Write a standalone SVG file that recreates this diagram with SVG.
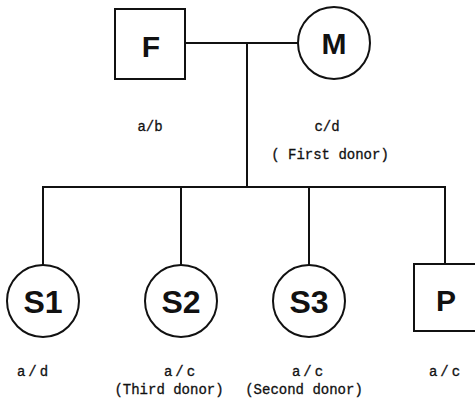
<svg xmlns="http://www.w3.org/2000/svg" width="475" height="411" viewBox="0 0 475 411">
  <style>
    .shape { fill: #ffffff; stroke: #111111; stroke-width: 2; }
    .line { stroke: #111111; stroke-width: 2; fill: none; }
    .name { font-family: "Liberation Sans", Arial, sans-serif; font-weight: bold; fill: #111111; text-anchor: middle; }
    .geno { font-family: "Liberation Mono", "Courier New", monospace; font-size: 14px; fill: #111111; stroke: #111111; stroke-width: 0.3; text-anchor: middle; }
    .spaced { letter-spacing: 3px; }
  </style>
  <rect width="475" height="411" fill="#ffffff"/>

  <!-- pedigree lines -->
  <g id="connectors">
    <line class="line" x1="185" y1="43" x2="298" y2="43"/>
    <line class="line" x1="247" y1="43" x2="247" y2="187"/>
    <line class="line" x1="42" y1="187" x2="446" y2="187"/>
    <line class="line" x1="43" y1="187" x2="43" y2="265"/>
    <line class="line" x1="181" y1="187" x2="181" y2="265"/>
    <line class="line" x1="309" y1="187" x2="309" y2="265"/>
    <line class="line" x1="445" y1="187" x2="445" y2="264"/>
  </g>

  <!-- parents -->
  <g id="F">
    <rect class="shape" x="115" y="9" width="70" height="70"/>
    <text class="name" x="151" y="57" font-size="30">F</text>
  </g>
  <g id="M">
    <circle class="shape" cx="334" cy="43" r="36"/>
    <text class="name" x="334" y="54" font-size="30">M</text>
  </g>

  <!-- children -->
  <g id="S1">
    <circle class="shape" cx="43" cy="301" r="36"/>
    <text class="name" x="43" y="313" font-size="32">S1</text>
  </g>
  <g id="S2">
    <circle class="shape" cx="181" cy="301" r="36"/>
    <text class="name" x="181" y="313" font-size="32">S2</text>
  </g>
  <g id="S3">
    <circle class="shape" cx="309" cy="301" r="36"/>
    <text class="name" x="309" y="313" font-size="32">S3</text>
  </g>
  <g id="P">
    <rect class="shape" x="414" y="264" width="70" height="67"/>
    <text class="name" x="446" y="311" font-size="30">P</text>
  </g>

  <!-- genotypes -->
  <g id="labels">
    <text class="geno" x="150" y="131">a/b</text>
    <text class="geno" x="327" y="131">c/d</text>
    <text class="geno" x="330" y="159">( First donor)</text>
    <text class="geno spaced" x="34" y="376">a/d</text>
    <text class="geno spaced" x="181" y="376">a/c</text>
    <text class="geno" x="169" y="394">(Third donor)</text>
    <text class="geno spaced" x="309" y="376">a/c</text>
    <text class="geno" x="304" y="394">(Second donor)</text>
    <text class="geno spaced" x="446" y="376">a/c</text>
  </g>
</svg>
